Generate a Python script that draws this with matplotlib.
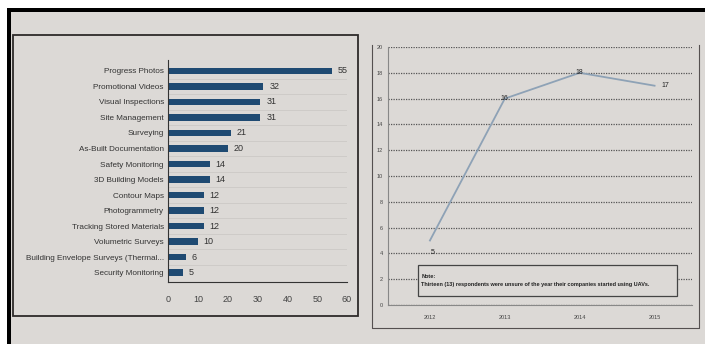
import matplotlib
matplotlib.use('Agg')
import matplotlib.pyplot as plt
from matplotlib.patches import Rectangle
from matplotlib.lines import Line2D

# uses of UAVs (left chart)
uses = ['Progress Photos', 'Promotional Videos', 'Visual Inspections', 'Site Management',
        'Surveying', 'As-Built Documentation', 'Safety Monitoring', '3D Building Models',
        'Contour Maps', 'Photogrammetry', 'Tracking Stored Materials', 'Volumetric Surveys',
        'Building Envelope Surveys (Thermal...', 'Security Monitoring']
use_counts = [55, 32, 31, 31, 21, 20, 14, 14, 12, 12, 12, 10, 6, 5]

# year companies started using UAVs (right chart)
years = [2012, 2013, 2014, 2015]
year_counts = [5, 16, 18, 17]

note = 'Note:\nThirteen (13) respondents were unsure of the year their companies started using UAVs.'

plt.rcParams['font.family'] = ['Liberation Sans', 'DejaVu Sans']

W, H = 705, 344
fig = plt.figure(figsize=(7.05, 3.44), dpi=100, facecolor='#dcd9d6')

def px_rect(x0, y0, x1, y1, **kw):
    # rectangle given in picture pixels (origin top-left)
    return Rectangle((x0 / W, 1 - y1 / H), (x1 - x0) / W, (y1 - y0) / H,
                     transform=fig.transFigure, **kw)

def px_line(xs, ys, **kw):
    return Line2D([x / W for x in xs], [1 - y / H for y in ys], transform=fig.transFigure, **kw)

# photo edges: white margin + black band on top and left
fig.patches.append(px_rect(0, 0, W, 8, color='white', linewidth=0))
fig.patches.append(px_rect(0, 0, 7, H, color='white', linewidth=0))
fig.patches.append(px_rect(7, 8, W, 12, color='black', linewidth=0))
fig.patches.append(px_rect(7, 8, 11, H, color='black', linewidth=0))

# left panel box
fig.patches.append(px_rect(13, 35, 358, 316, fill=False, edgecolor='#2e2a2a', linewidth=1.3))
# right panel frame (left, bottom, right sides)
fig.lines.append(px_line([372, 372, 699, 699], [45, 328, 328, 45], color='#555050', linewidth=0.8))

# --- left: horizontal bars
ax1 = fig.add_axes([168 / W, 1 - 282 / H, 179 / W, 222 / H])
ax1.set_facecolor('none')
ax1.set_axisbelow(True)
ypos = list(range(len(uses)))
ax1.barh(ypos, use_counts, height=0.42, color='#1f4a72', zorder=2)
for y, v in zip(ypos, use_counts):
    ax1.text(v + 2, y, str(v), va='center', ha='left', fontsize=6.5, color='#333333')
ax1.set_yticks(ypos)
ax1.set_yticklabels(uses, fontsize=5.9, color='#333333')
ax1.set_yticks([y + 0.5 for y in ypos[:-1]], minor=True)
ax1.set_ylim(len(uses) - 0.4, -0.7)
ax1.set_xlim(0, 60)
ax1.set_xticks(range(0, 61, 10))
ax1.tick_params(axis='x', labelsize=6.5, colors='#444444', length=0, pad=9)
ax1.tick_params(axis='y', which='both', length=0, pad=3)
ax1.grid(axis='y', which='minor', color='#c8c5c2', linewidth=0.5)
for s in ['top', 'right']:
    ax1.spines[s].set_visible(False)
ax1.spines['left'].set_color('#333333')
ax1.spines['bottom'].set_color('#333333')

# --- right: line chart
ax2 = fig.add_axes([388 / W, 1 - 305 / H, 304 / W, 258 / H])
ax2.set_facecolor('none')
ax2.plot(years, year_counts, color='#8ea2b6', linewidth=1.3)
offsets = [(0.03, -0.9), (0, 0), (0, 0), (0.15, 0)]
for x, v, (dx, dy) in zip(years, year_counts, offsets):
    ax2.text(x + dx, v + dy, str(v), fontsize=5, ha='center', va='center', color='#222222')
ax2.set_xlim(2011.44, 2015.5)
ax2.set_ylim(0, 20)
ax2.set_yticks(range(0, 21, 2))
ax2.set_xticks(years)
ax2.tick_params(labelsize=4, colors='#444444', length=0)
ax2.tick_params(axis='x', pad=7)
ax2.grid(axis='y', color='#555555', linestyle=(0, (1, 1)), linewidth=0.9)
for s in ['top', 'right']:
    ax2.spines[s].set_visible(False)
ax2.spines['left'].set_color('#888888')
ax2.spines['bottom'].set_color('#888888')

ax2.add_patch(Rectangle((0.099, 0.035), 0.851, 0.12, transform=ax2.transAxes,
                        facecolor='#dcd9d6', edgecolor='#444444', linewidth=0.9, zorder=3))
ax2.text(0.11, 0.095, note, transform=ax2.transAxes, fontsize=4, va='center', ha='left',
         color='#222222', fontweight='bold', linespacing=1.6, zorder=4)

fig.savefig('out.png', dpi=100, facecolor=fig.get_facecolor())
